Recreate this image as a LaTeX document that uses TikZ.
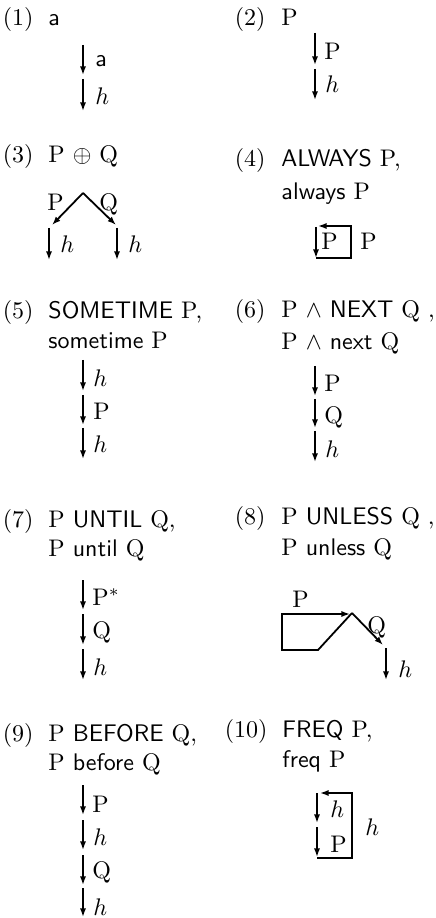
\documentclass[tikz,border=0pt]{standalone}
\usetikzlibrary{arrows.meta}
\begin{document}
\begin{tikzpicture}[x=0.4167pt,y=-0.4167pt,
  arr/.style={-{Latex[length=3.6pt,width=2.6pt]}, line width=0.75pt},
  lbl/.style={anchor=base west, inner sep=0pt},
  ttl/.style={anchor=base west, inner sep=0pt},
  num/.style={anchor=base east, inner sep=0pt}]
\useasboundingbox (0,0) rectangle (436,918);
% (1)
\node[num] (n1) at (34,26) {(1)};
\node[ttl] (t1) at (48,26) {\textsf{a}};
\coordinate (a1) at (83,45); \coordinate (a2) at (83,75);
\coordinate (a3) at (83,79); \coordinate (a4) at (83,111);
\draw[arr] (a1) -- (a2); \draw[arr] (a3) -- (a4);
\node[lbl] (l1a) at (95,67) {\textsf{a}};
\node[lbl] (l1b) at (95,105) {$h$};
% (2)
\node[num] (n2) at (266,26) {(2)};
\node[ttl] (t2) at (281,26) {P};
\coordinate (b1) at (315,33); \coordinate (b2) at (315,65);
\coordinate (b3) at (315,69); \coordinate (b4) at (315,100);
\draw[arr] (b1) -- (b2); \draw[arr] (b3) -- (b4);
\node[lbl] (l2a) at (324,60) {P};
\node[lbl] (l2b) at (325,93) {$h$};
% (3)
\node[num] (n3) at (34,163) {(3)};
\node[ttl] (t3) at (48,163) {P $\oplus$ Q};
\coordinate (c0) at (83,193);
\coordinate (cl) at (52,225); \coordinate (cr) at (116,225);
\draw[arr] (c0) -- (cl); \draw[arr] (c0) -- (cr);
\node[lbl] (l3p) at (47,211) {P};
\node[lbl] (l3q) at (99,211) {Q};
\coordinate (c1) at (49,228); \coordinate (c2) at (49,260);
\coordinate (c3) at (117,228); \coordinate (c4) at (117,260);
\draw[arr] (c1) -- (c2); \draw[arr] (c3) -- (c4);
\node[lbl] (l3h1) at (60,253) {$h$};
\node[lbl] (l3h2) at (128,253) {$h$};
% (4)
\node[num] (n4) at (266,167) {(4)};
\node[ttl] (t4) at (281,167) {\textsf{ALWAYS} P,};
\node[ttl] (t4b) at (281,200) {\textsf{always} P};
\coordinate (d1) at (316,227); \coordinate (d2) at (316,258);
\coordinate (d3) at (351,258); \coordinate (d4) at (351,226);
\coordinate (d5) at (318,226);
\draw[arr] (d1) -- (d2);
\draw[arr] (d2) -- (d3) -- (d4) -- (d5);
\node[lbl] (l4a) at (321,250) {P};
\node[lbl] (l4b) at (360,250) {P};
% (5)
\node[num] (n5) at (34,319) {(5)};
\node[ttl] (t5) at (48,319) {\textsf{SOMETIME} P,};
\node[ttl] (t5b) at (48,349) {\textsf{sometime} P};
\coordinate (e1) at (83,360); \coordinate (e2) at (83,391);
\coordinate (e3) at (83,395); \coordinate (e4) at (83,425);
\coordinate (e5) at (83,428); \coordinate (e6) at (83,459);
\draw[arr] (e1) -- (e2); \draw[arr] (e3) -- (e4); \draw[arr] (e5) -- (e6);
\node[lbl] (l5a) at (93,387) {$h$};
\node[lbl] (l5b) at (93,420) {P};
\node[lbl] (l5c) at (93,453) {$h$};
% (6)
\node[num] (n6) at (266,318) {(6)};
\node[ttl] (t6) at (281,318) {P $\wedge$ \textsf{NEXT} Q ,};
\node[ttl] (t6b) at (281,350) {P $\wedge$ \textsf{next} Q};
\coordinate (f1) at (315,366); \coordinate (f2) at (315,396);
\coordinate (f3) at (315,399); \coordinate (f4) at (315,428);
\coordinate (f5) at (315,431); \coordinate (f6) at (315,462);
\draw[arr] (f1) -- (f2); \draw[arr] (f3) -- (f4); \draw[arr] (f5) -- (f6);
\node[lbl] (l6a) at (324,392) {P};
\node[lbl] (l6b) at (324,424) {Q};
\node[lbl] (l6c) at (325,457) {$h$};
% (7)
\node[num] (n7) at (34,527) {(7)};
\node[ttl] (t7) at (48,527) {P \textsf{UNTIL} Q,};
\node[ttl] (t7b) at (48,556) {P \textsf{until} Q};
\coordinate (g1) at (83,580); \coordinate (g2) at (83,610);
\coordinate (g3) at (83,614); \coordinate (g4) at (83,645);
\coordinate (g5) at (83,649); \coordinate (g6) at (83,680);
\draw[arr] (g1) -- (g2); \draw[arr] (g3) -- (g4); \draw[arr] (g5) -- (g6);
\node[lbl] (l7a) at (92,605) {P$^*$};
\node[lbl] (l7b) at (92,638) {Q};
\node[lbl] (l7c) at (93,675) {$h$};
% (8)
\node[num] (n8) at (266,524) {(8)};
\node[ttl] (t8) at (281,524) {P \textsf{UNLESS} Q ,};
\node[ttl] (t8b) at (281,555) {P \textsf{unless} Q};
\coordinate (h0) at (352,613);
\coordinate (h1) at (318,650); \coordinate (h2) at (282,650);
\coordinate (h3) at (282,614); \coordinate (h4) at (350,614);
\coordinate (h5) at (383,645);
\coordinate (h6) at (386,648); \coordinate (h7) at (386,680);
\draw[arr] (h0) -- (h1) -- (h2) -- (h3) -- (h4);
\draw[arr] (h0) -- (h5);
\draw[arr] (h6) -- (h7);
\node[lbl] (l8p) at (292,607) {P};
\node[lbl] (l8q) at (367,633) {Q};
\node[lbl] (l8h) at (398,677) {$h$};
% (9)
\node[num] (n9) at (34,741) {(9)};
\node[ttl] (t9) at (48,741) {P \textsf{BEFORE} Q,};
\node[ttl] (t9b) at (48,770) {P \textsf{before} Q};
\coordinate (i1) at (83,785); \coordinate (i2) at (83,815);
\coordinate (i3) at (83,820); \coordinate (i4) at (83,850);
\coordinate (i5) at (83,855); \coordinate (i6) at (83,885);
\coordinate (i7) at (83,888); \coordinate (i8) at (83,917);
\draw[arr] (i1) -- (i2); \draw[arr] (i3) -- (i4);
\draw[arr] (i5) -- (i6); \draw[arr] (i7) -- (i8);
\node[lbl] (l9a) at (92,812) {P};
\node[lbl] (l9b) at (93,845) {$h$};
\node[lbl] (l9c) at (92,878) {Q};
\node[lbl] (l9d) at (93,915) {$h$};
% (10)
\node[num] (n10) at (268,737) {(10)};
\node[ttl] (t10) at (282,737) {\textsf{FREQ} P,};
\node[ttl] (t10b) at (282,767) {\textsf{freq} P};
\coordinate (j1) at (317,793); \coordinate (j2) at (317,823);
\coordinate (j3) at (317,827); \coordinate (j4) at (317,857);
\coordinate (j5) at (317,858); \coordinate (j6) at (352,858);
\coordinate (j7) at (352,793); \coordinate (j8) at (320,793);
\draw[arr] (j1) -- (j2); \draw[arr] (j3) -- (j4);
\draw[arr] (j5) -- (j6) -- (j7) -- (j8);
\node[lbl] (l10a) at (330,817) {$h$};
\node[lbl] (l10b) at (330,852) {P};
\node[lbl] (l10c) at (365,835) {$h$};
\end{tikzpicture}
\end{document}
